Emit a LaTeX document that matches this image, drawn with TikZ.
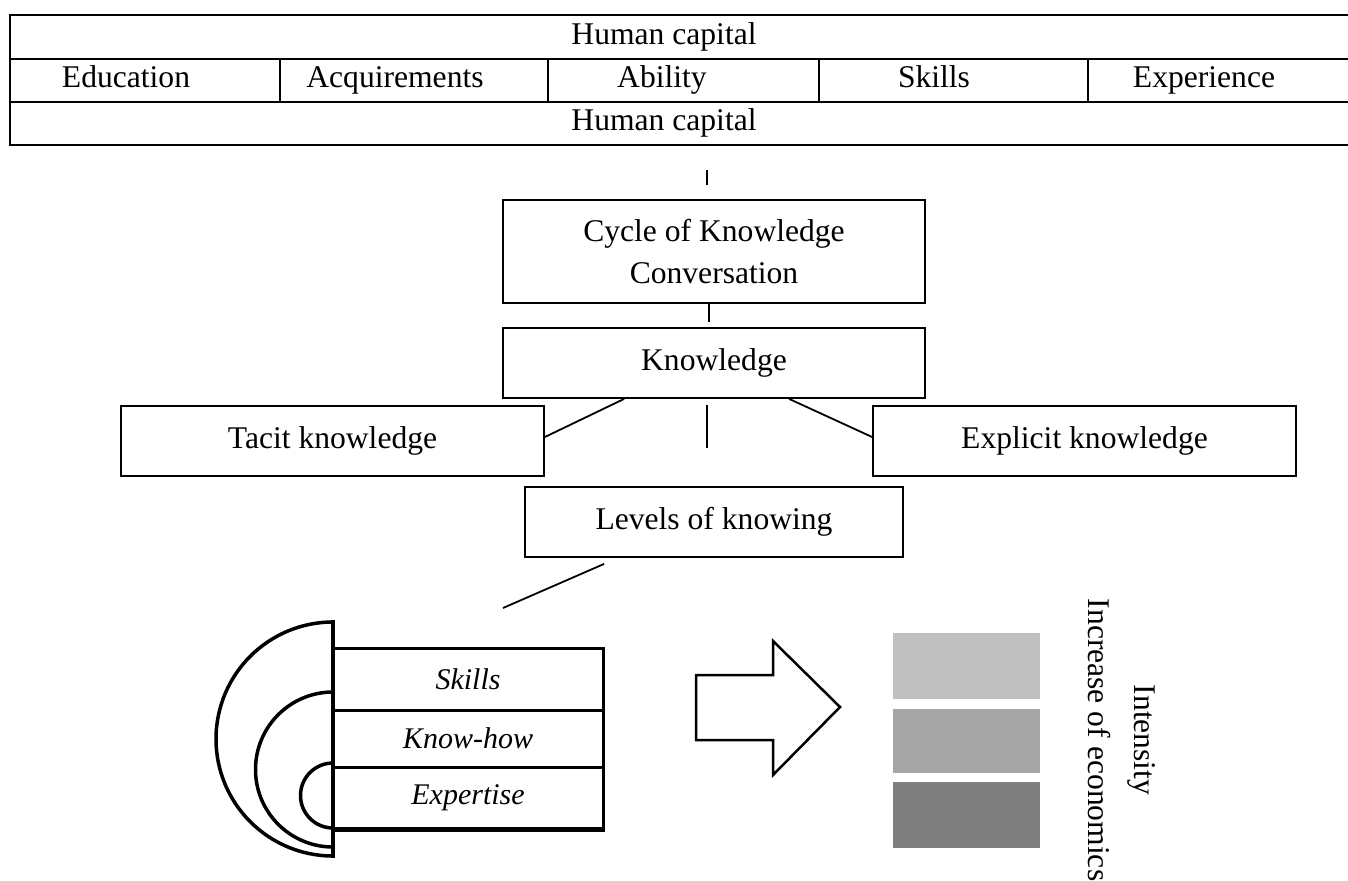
\documentclass[tikz,border=0pt]{standalone}
\usepackage{fontspec}
\setmainfont{Liberation Serif}
\usetikzlibrary{calc}
\newcommand\bigtxt{\fontsize{31.6}{42}\selectfont}
\newcommand\lvltxt{\fontsize{30}{36}\selectfont\itshape}
\definecolor{gA}{HTML}{BFBFBF}
\definecolor{gB}{HTML}{A5A5A5}
\definecolor{gC}{HTML}{7F7F7F}
\begin{document}
\begin{tikzpicture}[x=1pt,y=-1pt,line join=miter,
  box/.style={draw,line width=1.8pt,inner sep=0pt,align=center,font=\bigtxt},
  lbl/.style={inner sep=0pt,font=\bigtxt,anchor=base},
  conn/.style={line width=1.8pt},
  tab/.style={line width=1.8pt},
  lvl/.style={draw,line width=3pt,inner sep=0pt,minimum width=270pt,font=\lvltxt},
  half/.style={line width=3.5pt},
  gray/.style={inner sep=0pt,minimum width=147pt}]
\useasboundingbox (0,0) rectangle (1348,880);

% top table
\draw[tab] (10,15) rectangle (1362,145);
\draw[tab] (10,59) -- (1362,59);
\draw[tab] (10,102) -- (1362,102);
\foreach \c in {280,548,819,1088} \draw[tab] (\c,59) -- (\c,102);
\node[lbl] (hc1) at (664,44.5) {Human capital};
\node[lbl] (edu) at (126,88) {Education};
\node[lbl] (acq) at (395,88) {Acquirements};
\node[lbl] (abi) at (662,88) {Ability};
\node[lbl] (ski) at (934,88) {Skills};
\node[lbl] (exp) at (1204,88) {Experience};
\node[lbl] (hc2) at (664,131) {Human capital};

% chain of boxes
\node[box,minimum width=422pt,minimum height=103pt] (cycle) at (714,251.5) {Cycle of Knowledge\\Conversation};
\node[box,minimum width=422pt,minimum height=70pt] (know) at (714,363) {Knowledge};
\node[box,minimum width=423pt,minimum height=70pt] (tacit) at (332.5,441) {Tacit knowledge};
\node[box,minimum width=423pt,minimum height=70pt] (expl) at (1084.5,441) {Explicit knowledge};
\node[box,minimum width=378pt,minimum height=70pt] (levels) at (714,522) {Levels of knowing};

% connectors
\coordinate (t1a) at (707,170);
\coordinate (t1b) at (707,185);
\draw[conn] (t1a) -- (t1b);
\coordinate (t2) at (709,322);
\draw[conn] (cycle.south -| t2) -- (t2);
\draw[conn] ($(know.south west)+(122,0)$) -- ($(tacit.east)+(0,-4)$);
\draw[conn] ($(know.south west)+(287,0)$) -- ($(expl.west)+(0,-4)$);
\coordinate (m1) at (707,405);
\coordinate (m2) at (707,448);
\draw[conn] (m1) -- (m2);
\coordinate (lvend) at (503,608);
\draw[conn] ($(levels.south west)+(80,6)$) -- (lvend);

% levels of knowing block
\node[lvl,minimum height=62pt] (s1) at (468,679) {Skills};
\node[lvl,minimum height=57pt] (s2) at (468,738.5) {Know-how};
\node[lvl,minimum height=61pt] (s3) at (468,797.5) {Expertise};
\draw[line width=4.5pt] (s3.south west) -- (s3.south east);
\draw[half] (333,620) -- (333,858);
\draw[half] (333,622) arc[start angle=270,end angle=90,radius=117];
\draw[half] (333,692) arc[start angle=270,end angle=90,radius=77.5];
\draw[half] (333,763) arc[start angle=270,end angle=90,radius=32.5];

% arrow
\draw[line width=2.5pt] (696,675) -- (773,675) -- (773,641) -- (840,707)
  -- (773,775) -- (773,740) -- (696,740) -- cycle;

% gray bars
\node[gray,fill=gA,minimum height=66pt] (g1) at (966.5,666) {};
\node[gray,fill=gB,minimum height=64pt] (g2) at (966.5,741) {};
\node[gray,fill=gC,minimum height=66pt] (g3) at (966.5,815) {};

\node[inner sep=0pt,rotate=-90,align=center,font=\fontsize{31.6}{46}\selectfont] (intens) at (1122,740) {Intensity\\Increase of economics};
\end{tikzpicture}
\end{document}
